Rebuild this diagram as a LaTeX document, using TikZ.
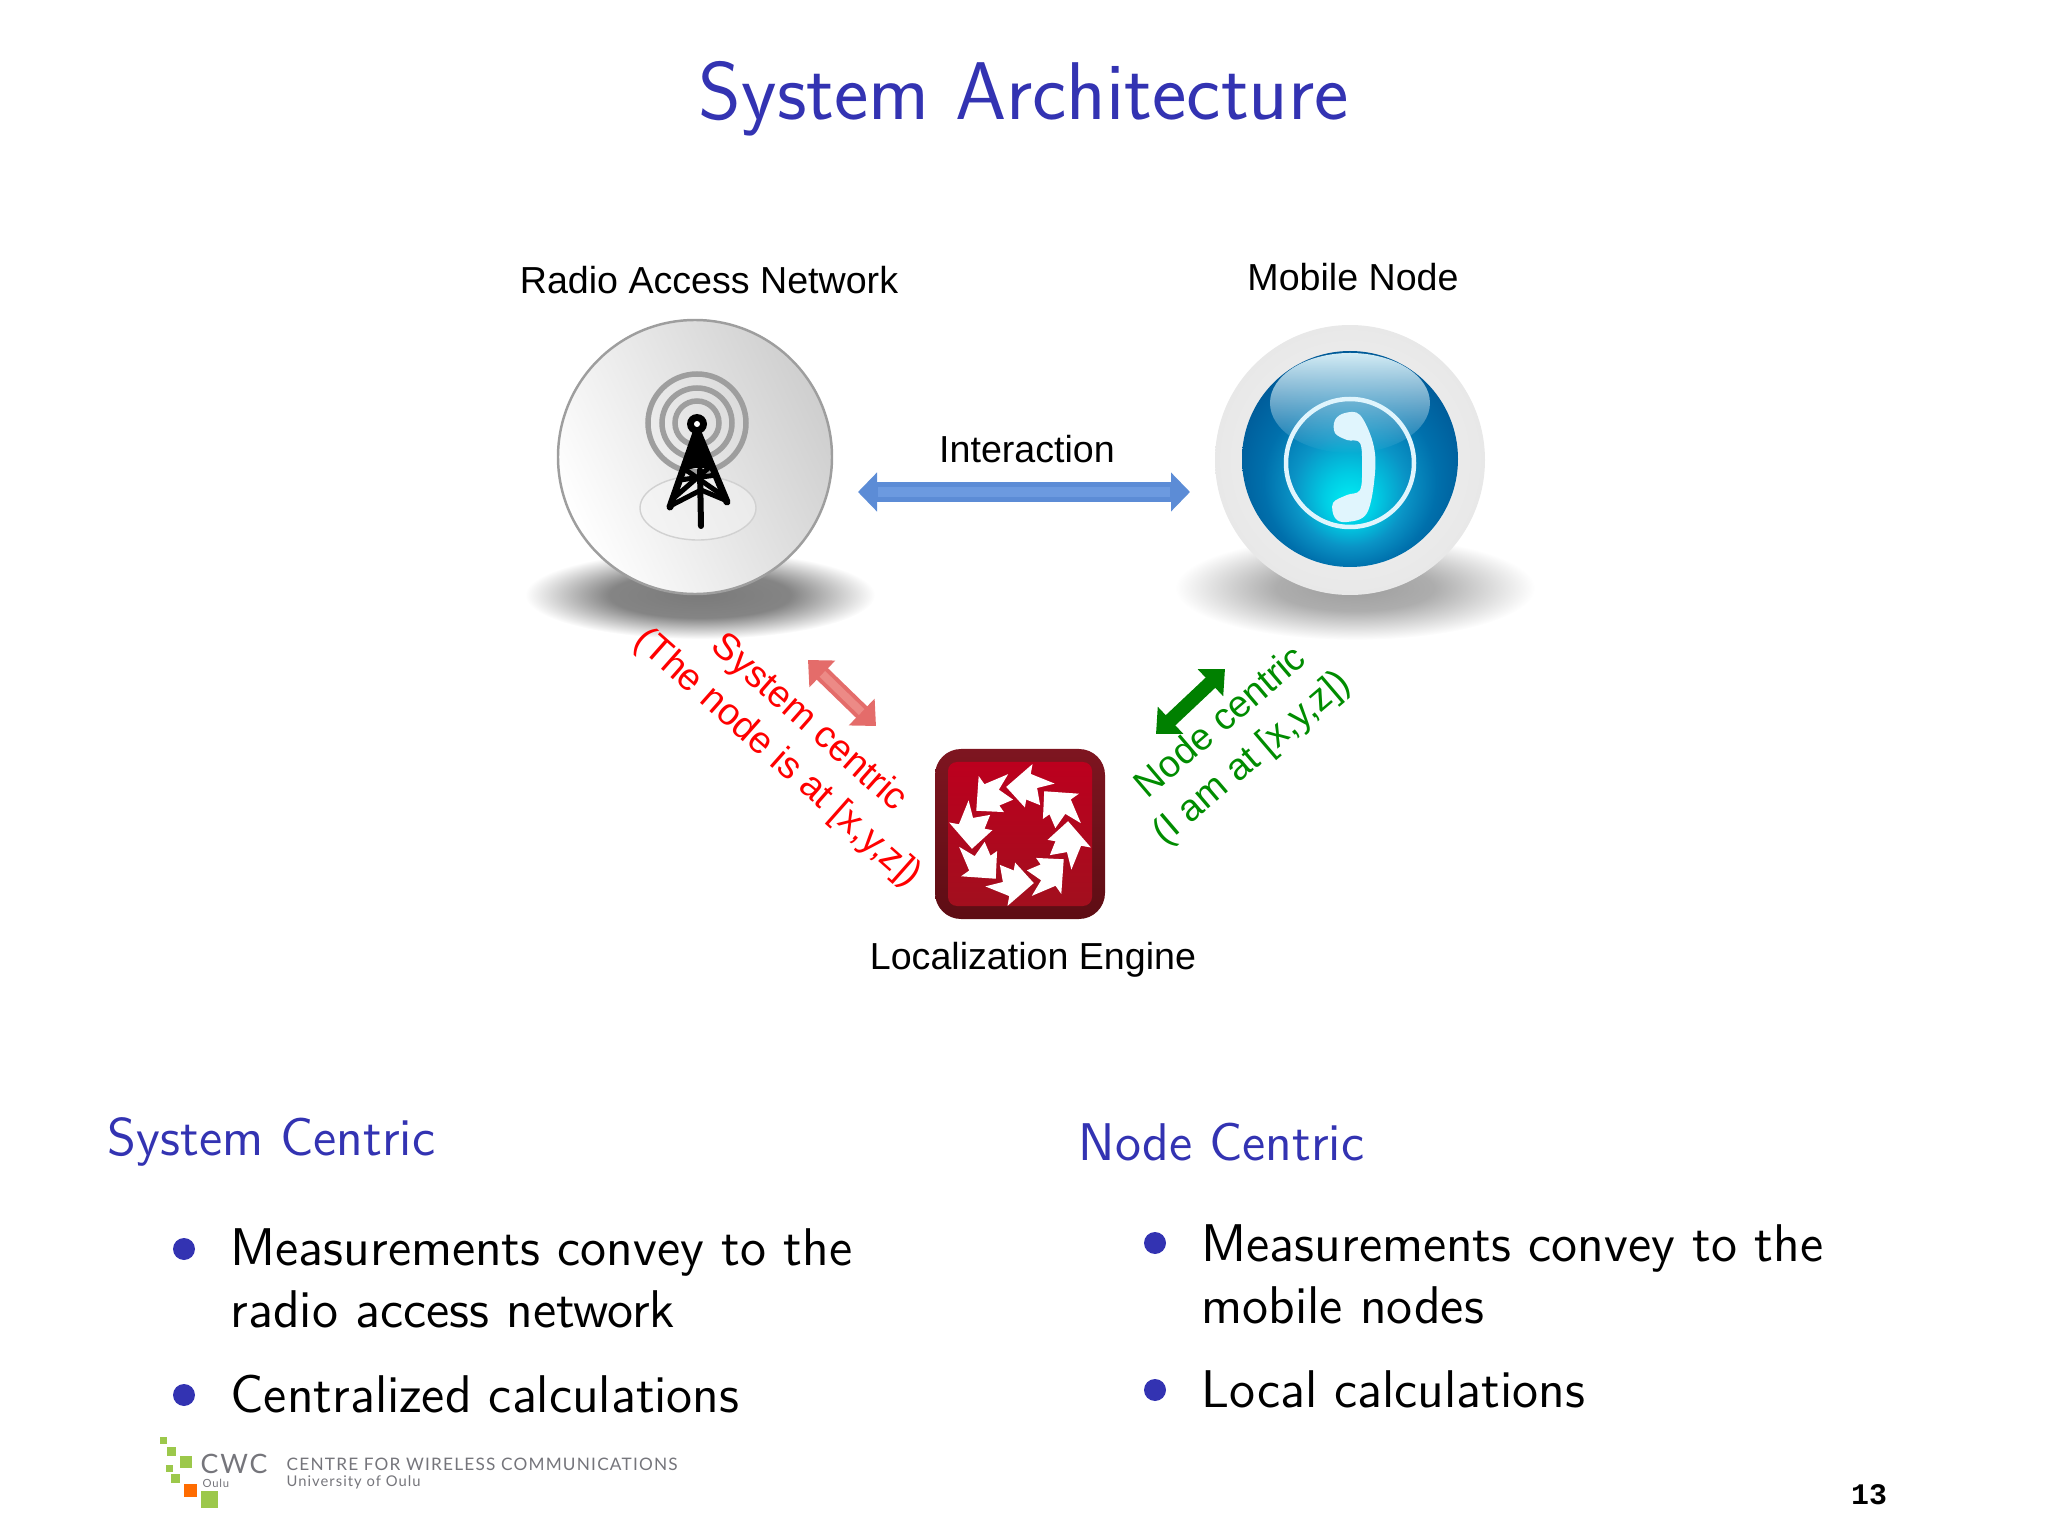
\documentclass[tikz,border=0pt]{standalone}
\usepackage{fontspec}
\usepackage{tikz}
\usetikzlibrary{arrows.meta, shadings, fadings}
\newfontfamily\helv{Liberation Sans}
\newfontfamily\pagefont{Liberation Mono}
\newfontfamily\logofont[LetterSpace=7]{Lato}
\definecolor{slideblue}{rgb}{0.2,0.2,0.7}
\definecolor{logogreen}{HTML}{9CC84B}
\definecolor{logogray}{HTML}{75757B}
\definecolor{btnA}{HTML}{00F2F6}
\definecolor{btnB}{HTML}{00CCE4}
\definecolor{btnC}{HTML}{0A94C6}
\definecolor{btnD}{HTML}{0070AC}
\definecolor{btnE}{HTML}{005A98}
\definecolor{btnF}{HTML}{004C88}
\definecolor{arrowblue}{HTML}{5C8CD6}
\definecolor{arrowlight}{HTML}{6C9AE0}
\definecolor{arrowred}{HTML}{E46C6A}
\definecolor{arrowpink}{HTML}{EC8A86}
\definecolor{shellA}{HTML}{7E1520}
\definecolor{shellB}{HTML}{4A0710}
\definecolor{shellC}{HTML}{5E0D14}
\definecolor{faceA}{HTML}{BC001E}
\definecolor{faceB}{HTML}{860A18}
\definecolor{faceC}{HTML}{A20F1E}
\pgfdeclareradialshading{bluebutton}{\pgfpoint{0bp}{-11bp}}{color(0bp)=(btnA); color(6bp)=(btnB); color(13bp)=(btnC); color(20bp)=(btnD); color(28bp)=(btnE); color(38bp)=(btnF)}
\pgfdeclareradialshading{darkshadow}{\pgfpointorigin}{color(0bp)=(black!52); color(13bp)=(black!48); color(25bp)=(white)}
\pgfdeclareradialshading{softshadow}{\pgfpointorigin}{color(0bp)=(black!38); color(11bp)=(black!32); color(25bp)=(white)}
\tikzset{
  blockarrow/.style={line width=0.2cm, {Triangle[width=0.38cm,length=0.19cm]}-{Triangle[width=0.38cm,length=0.19cm]}},
  slanted/.style={line width=0.16cm, {Triangle[width=0.36cm,length=0.2cm]}-{Triangle[width=0.36cm,length=0.2cm]}},
  figlabel/.style={font=\helv\fontsize{10.7}{13}\selectfont, inner sep=0pt},
  angled/.style={font=\helv\fontsize{10.7}{13.4}\selectfont, inner sep=0pt, align=center},
  heading/.style={font=\sffamily\fontsize{15.1}{17.6}\selectfont, text=slideblue, inner sep=0pt, anchor=base west},
  item/.style={font=\sffamily\fontsize{15.1}{17.6}\selectfont, inner sep=0pt, anchor=north west, align=left},
  logotext/.style={font=\logofont\fontsize{4.9}{6}\selectfont, text=logogray, inner sep=0pt, anchor=west},
}
\begin{document}
\begin{tikzpicture}
\useasboundingbox (0,0) rectangle (20.48,-15.36);

\node[font=\sffamily\fontsize{23.3}{28}\selectfont, text=slideblue, inner sep=0pt] (title) at (10.24,-0.99) {System Architecture};

% shadows under the two balls
\shade[shading=darkshadow] (7.0,-5.95) ellipse (1.75 and 0.44);
\shade[shading=softshadow] (13.55,-5.88) ellipse (1.8 and 0.52);

% radio access network
\node[circle, minimum size=2.74cm, draw=black!38, line width=0.7pt, left color=white, right color=black!19, shading angle=115] (ran) at (6.95,-4.57) {};
\draw[black!18, fill=black!4, fill opacity=0.5] (6.98,-5.08) ellipse (0.58 and 0.32);
\draw[black!38, line width=0.055cm] (6.97,-4.23) circle (0.49);
\draw[black!38, line width=0.055cm] (6.97,-4.23) circle (0.35);
\draw[black!38, line width=0.055cm] (6.97,-4.23) circle (0.22);
\fill (6.97,-4.3)--(6.84,-4.68)--(7.11,-4.68)--cycle;
\draw[line width=0.07cm, line cap=round] (6.97,-4.3)--(6.70,-5.07);
\draw[line width=0.07cm, line cap=round] (6.97,-4.3)--(7.27,-5.02);
\draw[line width=0.06cm, line cap=round] (7.0,-4.7)--(7.01,-5.26);
\draw[line width=0.05cm] (6.83,-4.68)--(7.12,-4.62);
\draw[line width=0.05cm] (6.80,-4.80)--(7.16,-4.75);
\draw[line width=0.05cm] (6.75,-4.97)--(7.12,-4.65);
\draw[line width=0.05cm] (6.83,-4.68)--(7.22,-4.95);
\draw[line width=0.05cm] (6.72,-5.05)--(7.01,-4.90);
\draw[line width=0.05cm] (7.25,-5.0)--(7.01,-4.90);
\fill (6.97,-4.24) circle (0.1);
\fill[white] (6.97,-4.24) circle (0.03);
\node[figlabel] (ranlabel) at (7.09,-2.80) {Radio Access Network};

% mobile node
\node[circle, minimum size=2.70cm, inner color=white!96!black, outer color=black!9] (mobile) at (13.50,-4.60) {};
\node[circle, minimum size=2.16cm, shading=bluebutton] (button) at (13.50,-4.59) {};
\begin{scope}
\clip (13.50,-4.59) circle (1.08);
\fill[white!82!btnC, path fading=south] (13.50,-4.03) ellipse (0.80 and 0.50);
\end{scope}
\draw[white!88!cyan, line width=0.045cm] (13.50,-4.63) circle (0.64);
\fill[white!88!cyan] plot[smooth cycle, tension=0.6] coordinates {(13.35,-4.20) (13.45,-4.13) (13.60,-4.15) (13.73,-4.43) (13.75,-4.73) (13.67,-5.13) (13.47,-5.22) (13.35,-5.18) (13.33,-5.03) (13.47,-4.95) (13.60,-4.90) (13.62,-4.67) (13.60,-4.43) (13.47,-4.40) (13.35,-4.33)};
\node[figlabel] (mobilelabel) at (13.53,-2.77) {Mobile Node};

% localization engine
\node[rectangle, minimum size=1.70cm, rounded corners=0.26cm, top color=shellA, middle color=shellB, bottom color=shellC] (engine) at (10.20,-8.34) {};
\node[rectangle, minimum size=1.44cm, rounded corners=0.09cm, top color=faceA, middle color=faceB, bottom color=faceC] (face) at (10.20,-8.34) {};
\foreach \a in {-32,13,...,283} {
  \begin{scope}[shift={(10.20,-8.35)}, rotate=\a]
  \fill[white] (-2:0.62)--(22:0.62)--(22:0.72)--(48:0.50)--(22:0.28)--(22:0.36)--(-2:0.36)--(12:0.50)--cycle;
  \end{scope}
}
\node[figlabel] (enginelabel) at (10.33,-9.60) {Localization Engine};

% connectors
\coordinate (intleft) at (8.58,-4.92);
\coordinate (intright) at (11.90,-4.92);
\draw[blockarrow, color=arrowblue] (intleft)--(intright);
\draw[arrowlight, line width=0.1cm, shorten >=0.2cm, shorten <=0.2cm] (intleft)--(intright);
\node[figlabel] (intlabel) at (10.27,-4.49) {Interaction};

\coordinate (redtop) at (8.08,-6.60);
\coordinate (redbottom) at (8.76,-7.26);
\draw[slanted, color=arrowred] (redtop)--(redbottom);
\draw[arrowpink, line width=0.08cm, shorten >=0.2cm, shorten <=0.2cm] (redtop)--(redbottom);
\node[angled, text=red, rotate=-41.5] (syslabel) at (7.93,-7.41) {System centric\\(The node is at [x,y,z])};

\coordinate (greentop) at (12.25,-6.69);
\coordinate (greenbottom) at (11.56,-7.34);
\draw[slanted, line width=0.14cm, color=green!50!black] (greentop)--(greenbottom);
\node[angled, text=green!55!black, rotate=40.5] (nodelabel) at (12.37,-7.41) {Node centric\\(I am at [x,y,z])};

% left column
\node[heading] (sysheading) at (1.07,-11.55) {System Centric};
\fill[slideblue] (1.84,-12.49) circle (0.11);
\node[item] (sysone) at (2.30,-12.28) {Measurements convey to the\\radio access network};
\fill[slideblue] (1.84,-13.95) circle (0.11);
\node[item] (systwo) at (2.30,-13.74) {Centralized calculations};

% right column
\node[heading] (nodeheading) at (10.78,-11.60) {Node Centric};
\fill[slideblue] (11.55,-12.43) circle (0.11);
\node[item] (nodeone) at (12.01,-12.24) {Measurements convey to the\\mobile nodes};
\fill[slideblue] (11.55,-13.90) circle (0.11);
\node[item] (nodetwo) at (12.01,-13.70) {Local calculations};

% logo
\fill[logogreen] (1.60,-14.37) rectangle +(0.07,-0.07);
\fill[logogreen] (1.67,-14.47) rectangle +(0.09,-0.09);
\fill[logogreen] (1.80,-14.56) rectangle +(0.12,-0.12);
\fill[logogreen] (1.66,-14.65) rectangle +(0.07,-0.07);
\fill[logogreen] (1.71,-14.74) rectangle +(0.09,-0.09);
\fill[orange!85!red] (1.84,-14.84) rectangle +(0.13,-0.13);
\fill[logogreen] (2.01,-14.91) rectangle +(0.17,-0.17);
\node[logotext, font=\logofont\fontsize{7.6}{9}\selectfont] (cwc) at (2.00,-14.64) {CWC};
\node[logotext, font=\logofont\fontsize{3.2}{4}\selectfont] (oulu) at (2.02,-14.83) {Oulu};
\node[logotext] (centre) at (2.86,-14.64) {CENTRE FOR WIRELESS COMMUNICATIONS};
\node[logotext, font=\logofont\fontsize{4.2}{5}\selectfont] (univ) at (2.86,-14.82) {University of Oulu};

\node[font=\pagefont\bfseries\fontsize{8.5}{10}\selectfont, inner sep=0pt] (pagenum) at (18.69,-14.95) {13};
\end{tikzpicture}
\end{document}
